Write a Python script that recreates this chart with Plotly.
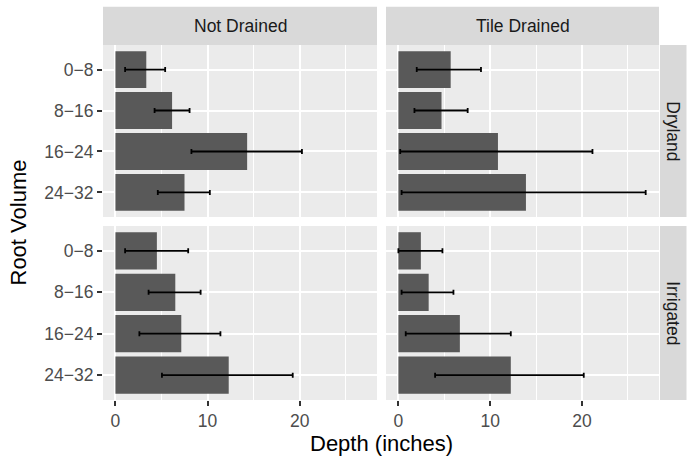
import plotly.graph_objects as go

# ---- data ----
categories = ["0\u22128", "8\u221216", "16\u221224", "24\u221232"]
col_labels = ["Not Drained", "Tile Drained"]
row_labels = ["Dryland", "Irrigated"]

nd_dry_mean = [3.35, 6.15, 14.3, 7.5]
nd_dry_low = [1.05, 4.25, 8.25, 4.6]
nd_dry_high = [5.4, 8.05, 20.25, 10.25]

td_dry_mean = [5.7, 4.7, 10.85, 13.9]
td_dry_low = [2.0, 1.75, 0.2, 0.35]
td_dry_high = [9.0, 7.55, 21.15, 26.95]

nd_irr_mean = [4.5, 6.5, 7.15, 12.3]
nd_irr_low = [1.05, 3.6, 2.6, 5.05]
nd_irr_high = [7.9, 9.25, 11.4, 19.25]

td_irr_mean = [2.45, 3.3, 6.7, 12.25]
td_irr_low = [0.0, 0.35, 0.8, 4.0]
td_irr_high = [4.8, 6.0, 12.25, 20.2]

x_ticks = [0, 10, 20]

panels = [
    (nd_dry_mean, nd_dry_low, nd_dry_high, "x", "y"),
    (td_dry_mean, td_dry_low, td_dry_high, "x2", "y2"),
    (nd_irr_mean, nd_irr_low, nd_irr_high, "x3", "y3"),
    (td_irr_mean, td_irr_low, td_irr_high, "x4", "y4"),
]

FONT = "Liberation Sans, Arial, sans-serif"
TICK_SIZE = 17.5
STRIP_SIZE = 17.5
TITLE_SIZE = 22
W, H = 687, 457
ML, MR, MT, MB = 103, 28, 45, 57
PW, PH = W - ML - MR, H - MT - MB

fig = go.Figure()
for mean, low, high, xa, ya in panels:
    plus = [h - m for h, m in zip(high, mean)]
    minus = [m - l for m, l in zip(mean, low)]
    fig.add_trace(go.Bar(
        x=mean, y=categories, orientation="h", xaxis=xa, yaxis=ya,
        marker=dict(color="#595959", line=dict(width=0)),
        error_x=dict(type="data", symmetric=False, array=plus, arrayminus=minus,
                     color="black", thickness=1.8, width=2.5),
        showlegend=False, hoverinfo="skip",
    ))

xdom_l = [0, (377 - ML) / PW]
xdom_r = [(386 - ML) / PW, 1]
ydom_t = [(H - MB - 217) / PH, 1]
ydom_b = [0, (H - MB - 226) / PH]

xr = [-1.35, 28.4]
yr = [3.6, -0.6]

def xaxis(dom, anchor, labels):
    return dict(domain=dom, anchor=anchor, range=xr, tickvals=x_ticks,
                showticklabels=labels, ticks="outside" if labels else "",
                ticklen=5, tickwidth=1.6, tickcolor="#333333",
                tickfont=dict(family=FONT, size=TICK_SIZE, color="#4D4D4D"),
                showgrid=True, gridcolor="white", gridwidth=2, zeroline=False,
                minor=dict(dtick=5, tick0=0, showgrid=True, gridcolor="white", gridwidth=1, ticks=""),
                showline=False, fixedrange=True)

def yaxis(dom, anchor, labels):
    return dict(domain=dom, anchor=anchor, type="category",
                categoryorder="array", categoryarray=categories, range=yr,
                showticklabels=labels, ticks="outside" if labels else "",
                ticklen=5, tickwidth=1.6, tickcolor="#333333",
                tickfont=dict(family=FONT, size=TICK_SIZE, color="#4D4D4D"),
                showgrid=True, gridcolor="white", gridwidth=2, zeroline=False,
                showline=False, fixedrange=True)

fig.update_layout(
    width=W, height=H,
    margin=dict(l=ML, r=MR, t=MT, b=MB, pad=0),
    paper_bgcolor="white", plot_bgcolor="#EBEBEB",
    bargap=0.1,
    font=dict(family=FONT, color="#1A1A1A"),
    xaxis=xaxis(xdom_l, "y", False),
    xaxis2=xaxis(xdom_r, "y2", False),
    xaxis3=xaxis(xdom_l, "y3", True),
    xaxis4=xaxis(xdom_r, "y4", True),
    yaxis=yaxis(ydom_t, "x", True),
    yaxis2=yaxis(ydom_t, "x2", False),
    yaxis3=yaxis(ydom_b, "x3", True),
    yaxis4=yaxis(ydom_b, "x4", False),
)

shapes = []
annotations = []
strip_top = (H - MB - 6.7) / PH
for dom, lab in zip([xdom_l, xdom_r], col_labels):
    shapes.append(dict(type="rect", xref="paper", yref="paper", x0=dom[0], x1=dom[1],
                       y0=1, y1=strip_top, fillcolor="#D9D9D9", line=dict(width=0), layer="below"))
    annotations.append(dict(text=lab, xref="paper", yref="paper", x=(dom[0] + dom[1]) / 2,
                            y=(1 + strip_top) / 2, showarrow=False, xanchor="center", yanchor="middle",
                            font=dict(family=FONT, size=STRIP_SIZE, color="#1A1A1A")))
strip_right = (W - 0.5 - ML) / PW
for dom, lab in zip([ydom_t, ydom_b], row_labels):
    shapes.append(dict(type="rect", xref="paper", yref="paper", x0=1 + 1 / PW, x1=strip_right,
                       y0=dom[0], y1=dom[1], fillcolor="#D9D9D9", line=dict(width=0), layer="below"))
    annotations.append(dict(text=lab, xref="paper", yref="paper", x=(1 + strip_right) / 2,
                            y=(dom[0] + dom[1]) / 2, showarrow=False, textangle=90,
                            xanchor="center", yanchor="middle",
                            font=dict(family=FONT, size=STRIP_SIZE, color="#1A1A1A")))

annotations.append(dict(text="Depth (inches)", xref="paper", yref="paper", x=0.5,
                        y=(H - MB - 443) / PH, showarrow=False, xanchor="center", yanchor="middle",
                        font=dict(family=FONT, size=TITLE_SIZE, color="black")))
annotations.append(dict(text="Root Volume", xref="paper", yref="paper", x=(18 - ML) / PW,
                        y=0.5, showarrow=False, textangle=-90, xanchor="center", yanchor="middle",
                        font=dict(family=FONT, size=TITLE_SIZE, color="black")))

fig.update_layout(shapes=shapes, annotations=annotations)
fig.write_html("out.html")
